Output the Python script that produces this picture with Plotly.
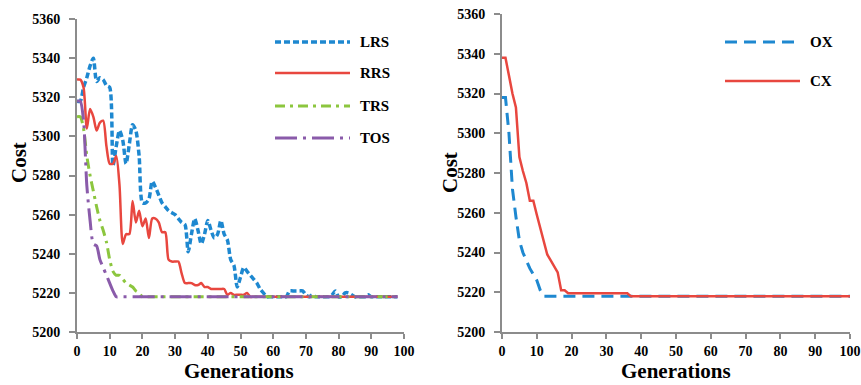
import plotly.graph_objects as go

W, H = 861, 385

# ---------------- data ----------------
gen_left = list(range(0, 99))
gen_right = list(range(0, 101))

lrs = [5318, 5318, 5325, 5330, 5336, 5340, 5328, 5330, 5329, 5326,
       5325, 5285, 5295, 5303, 5298, 5286, 5296, 5306, 5303, 5290,
       5266, 5266, 5268, 5277, 5274, 5270, 5266, 5264, 5262, 5261,
       5260, 5258, 5256, 5255, 5241, 5250, 5258, 5252, 5245, 5250,
       5257, 5252, 5248, 5250, 5257, 5250, 5247, 5237, 5234, 5223,
       5228, 5233, 5231, 5229, 5227, 5225, 5222, 5220, 5218, 5218,
       5218, 5218, 5218, 5218, 5218, 5221, 5221, 5221, 5221, 5221,
       5219, 5218, 5219, 5218, 5218, 5218, 5218, 5218, 5219, 5221,
       5218, 5218, 5220, 5220, 5219, 5218, 5218, 5218, 5218, 5219,
       5218, 5218, 5218, 5218, 5218, 5218, 5218, 5218, 5218]

rrs = [5329, 5329, 5325, 5304, 5314, 5310, 5303, 5307, 5308, 5295,
       5286, 5286, 5290, 5275, 5245, 5250, 5250, 5267, 5256, 5262,
       5254, 5258, 5248, 5258, 5258, 5256, 5251, 5251, 5237, 5236,
       5236, 5236, 5230, 5225, 5225, 5225, 5224, 5224, 5225, 5223,
       5223, 5222, 5222, 5222, 5222, 5222, 5219, 5220, 5219, 5219,
       5219, 5219, 5220, 5218, 5218, 5218, 5218, 5218, 5218, 5218,
       5218, 5218, 5218, 5218, 5218, 5218, 5218, 5218, 5218, 5218,
       5218, 5218, 5218, 5218, 5218, 5218, 5218, 5218, 5218, 5218,
       5218, 5218, 5218, 5218, 5218, 5218, 5218, 5218, 5218, 5218,
       5218, 5218, 5218, 5218, 5218, 5218, 5218, 5218, 5218]

trs = [5310, 5310, 5304, 5290, 5280, 5272, 5264, 5257, 5252, 5246,
       5237, 5231, 5229, 5229, 5227, 5225, 5224, 5223, 5221, 5220,
       5218, 5218, 5218, 5218, 5218, 5218, 5218, 5218, 5218, 5218,
       5218, 5218, 5218, 5218, 5218, 5218, 5218, 5218, 5218, 5218,
       5218, 5218, 5218, 5218, 5218, 5218, 5218, 5218, 5218, 5218,
       5218, 5218, 5218, 5218, 5218, 5218, 5218, 5218, 5218, 5218,
       5218, 5218, 5218, 5218, 5218, 5218, 5218, 5218, 5218, 5218,
       5218, 5218, 5218, 5218, 5218, 5218, 5218, 5218, 5218, 5218,
       5218, 5218, 5218, 5218, 5218, 5218, 5218, 5218, 5218, 5218,
       5218, 5218, 5218, 5218, 5218, 5218, 5218, 5218, 5218]

tos = [5318, 5318, 5308, 5275, 5257, 5245, 5244, 5237, 5233, 5229,
       5225, 5221, 5218, 5218, 5218, 5218, 5218, 5218, 5218, 5218,
       5218, 5218, 5218, 5218, 5218, 5218, 5218, 5218, 5218, 5218,
       5218, 5218, 5218, 5218, 5218, 5218, 5218, 5218, 5218, 5218,
       5218, 5218, 5218, 5218, 5218, 5218, 5218, 5218, 5218, 5218,
       5218, 5218, 5218, 5218, 5218, 5218, 5218, 5218, 5218, 5218,
       5218, 5218, 5218, 5218, 5218, 5218, 5218, 5218, 5218, 5218,
       5218, 5218, 5218, 5218, 5218, 5218, 5218, 5218, 5218, 5218,
       5218, 5218, 5218, 5218, 5218, 5218, 5218, 5218, 5218, 5218,
       5218, 5218, 5218, 5218, 5218, 5218, 5218, 5218, 5218]

ox = [5318, 5318, 5300, 5272, 5258, 5246, 5240, 5236, 5232, 5229,
      5226, 5221, 5218, 5218, 5218, 5218, 5218, 5218, 5218, 5218,
      5218, 5218, 5218, 5218, 5218, 5218, 5218, 5218, 5218, 5218,
      5218, 5218, 5218, 5218, 5218, 5218, 5218, 5218, 5218, 5218,
      5218, 5218, 5218, 5218, 5218, 5218, 5218, 5218, 5218, 5218,
      5218, 5218, 5218, 5218, 5218, 5218, 5218, 5218, 5218, 5218,
      5218, 5218, 5218, 5218, 5218, 5218, 5218, 5218, 5218, 5218,
      5218, 5218, 5218, 5218, 5218, 5218, 5218, 5218, 5218, 5218,
      5218, 5218, 5218, 5218, 5218, 5218, 5218, 5218, 5218, 5218,
      5218, 5218, 5218, 5218, 5218, 5218, 5218, 5218, 5218, 5218,
      5218]

cx = [5338, 5338, 5329, 5320, 5313, 5288, 5281, 5275, 5266, 5266,
      5259, 5252, 5245, 5239, 5236, 5233, 5230, 5221, 5221, 5219.5,
      5219.5, 5219.5, 5219.5, 5219.5, 5219.5, 5219.5, 5219.5, 5219.5, 5219.5, 5219.5,
      5219.5, 5219.5, 5219.5, 5219.5, 5219.5, 5219.5, 5219.5, 5218, 5218, 5218,
      5218, 5218, 5218, 5218, 5218, 5218, 5218, 5218, 5218, 5218,
      5218, 5218, 5218, 5218, 5218, 5218, 5218, 5218, 5218, 5218,
      5218, 5218, 5218, 5218, 5218, 5218, 5218, 5218, 5218, 5218,
      5218, 5218, 5218, 5218, 5218, 5218, 5218, 5218, 5218, 5218,
      5218, 5218, 5218, 5218, 5218, 5218, 5218, 5218, 5218, 5218,
      5218, 5218, 5218, 5218, 5218, 5218, 5218, 5218, 5218, 5218,
      5218]

x_ticks = [0, 10, 20, 30, 40, 50, 60, 70, 80, 90, 100]
y_ticks = [5200, 5220, 5240, 5260, 5280, 5300, 5320, 5340, 5360]

# ---------------- styles ----------------
BLUE = "#1E88D0"
RED = "#E8473F"
GREEN = "#8CC63E"
PURPLE = "#8A5BAA"
AXIS = "#8C8C8C"
FONT = "Liberation Serif, Times New Roman, serif"

series_left = [
    ("LRS", lrs, BLUE, 3.5, "6px,3px"),
    ("RRS", rrs, RED, 2.5, "solid"),
    ("TRS", trs, GREEN, 3, "10px,5px,3px,5px"),
    ("TOS", tos, PURPLE, 3, "22px,6px,3px,6px"),
]
series_right = [
    ("OX", ox, BLUE, 3, "12px,7px"),
    ("CX", cx, RED, 2.5, "solid"),
]

fig = go.Figure()
for name, ys, col, w, dash in series_left:
    fig.add_trace(go.Scatter(x=gen_left, y=ys, mode="lines", name=name,
                             line=dict(color=col, width=w, dash=dash, shape="spline", smoothing=0.7),
                             xaxis="x", yaxis="y", showlegend=False))
for name, ys, col, w, dash in series_right:
    fig.add_trace(go.Scatter(x=gen_right, y=ys, mode="lines", name=name,
                             line=dict(color=col, width=w, dash=dash),
                             xaxis="x2", yaxis="y2", showlegend=False))

def px(x):
    return x / W

def py(y):
    return 1 - y / H

tickfont = dict(family=FONT, size=14, color="black")
axis_common = dict(showline=True, linecolor=AXIS, linewidth=2, ticks="outside",
                   tickcolor=AXIS, tickwidth=1.5, showgrid=False, zeroline=False,
                   tickfont=tickfont, automargin=False)
x_text = ["<b>%d</b>" % v for v in x_ticks]
y_text = ["<b>%d</b>" % v for v in y_ticks]

fig.update_layout(
    width=W, height=H, margin=dict(l=0, r=0, t=0, b=0, autoexpand=False),
    plot_bgcolor="white", paper_bgcolor="white",
    xaxis=dict(domain=[px(77), px(404)], range=[0, 100], tickvals=x_ticks, ticktext=x_text,
               anchor="y", ticklen=5, **axis_common),
    yaxis=dict(domain=[py(332), py(19)], range=[5200, 5360], tickvals=y_ticks, ticktext=y_text,
               anchor="x", ticklen=6, ticklabelstandoff=6, **axis_common),
    xaxis2=dict(domain=[px(502), px(850)], range=[0, 100], tickvals=x_ticks, ticktext=x_text,
                anchor="y2", ticklen=5, **axis_common),
    yaxis2=dict(domain=[py(332), py(14)], range=[5200, 5360], tickvals=y_ticks, ticktext=y_text,
                anchor="x2", ticklen=6, ticklabelstandoff=6, **axis_common),
)

annotations = []
shapes = []
title_font = dict(family=FONT, size=21, color="black")
# axis titles
for (cxp, cyp) in [(19, 163), (450, 173)]:
    annotations.append(dict(x=px(cxp), y=py(cyp), xref="paper", yref="paper", text="<b>Cost</b>",
                            textangle=-90, showarrow=False, xanchor="center", yanchor="middle",
                            font=title_font))
for cxp in [239, 676]:
    annotations.append(dict(x=px(cxp), y=py(371), xref="paper", yref="paper", text="<b>Generations</b>",
                            showarrow=False, xanchor="center", yanchor="middle", font=title_font))

# custom legends
leg_font = dict(family=FONT, size=15, color="black")
legend_left_y = [42, 73, 106, 138]
for (name, ys, col, w, dash), ly in zip(series_left, legend_left_y):
    shapes.append(dict(type="line", xref="paper", yref="paper", x0=px(275), x1=px(350),
                       y0=py(ly), y1=py(ly), line=dict(color=col, width=w, dash=dash)))
    annotations.append(dict(x=px(358), y=py(ly), xref="paper", yref="paper", text="<b>%s</b>" % name,
                            xanchor="left", yanchor="middle", showarrow=False, font=leg_font))
legend_right_y = [42, 81]
for (name, ys, col, w, dash), ly in zip(series_right, legend_right_y):
    shapes.append(dict(type="line", xref="paper", yref="paper", x0=px(725), x1=px(800),
                       y0=py(ly), y1=py(ly), line=dict(color=col, width=w, dash=dash)))
    annotations.append(dict(x=px(808), y=py(ly), xref="paper", yref="paper", text="<b>%s</b>" % name,
                            xanchor="left", yanchor="middle", showarrow=False, font=leg_font))

fig.update_layout(annotations=annotations, shapes=shapes)
fig.write_html("out.html", config={"displayModeBar": False},
               post_script="document.body.style.margin='0px';")
